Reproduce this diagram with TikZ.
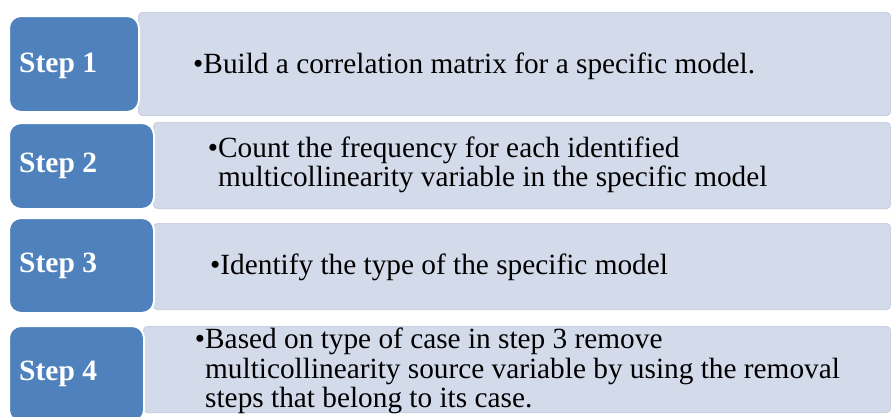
\documentclass[tikz,border=0pt]{standalone}
\usepackage{fontspec}
\setmainfont{Liberation Serif}
\definecolor{stepblue}{HTML}{4F81BD}
\definecolor{panelfill}{HTML}{D3DAEA}
\definecolor{paneledge}{HTML}{C9D1E3}
\begin{document}
\begin{tikzpicture}[x=1pt,y=-1pt,
  panel/.style={fill=panelfill, draw=paneledge, line width=1pt, rounded corners=4pt,
                anchor=north west, inner sep=0pt},
  stepbox/.style={fill=stepblue, draw=white, line width=2pt, rounded corners=12pt,
                  anchor=north west, inner sep=0pt},
  steplabel/.style={anchor=west, inner sep=0pt, text=white,
                    font=\fontsize{29.5}{29.5}\selectfont\bfseries},
  body/.style={anchor=west, inner sep=0pt, align=left,
               font=\fontsize{29.3}{29.5}\selectfont}]
\useasboundingbox (0,0) rectangle (891,416);
\clip (0,0) rectangle (891,416);

% light panels holding the descriptions
\node[panel, minimum width=752pt, minimum height=103pt] (p1) at (138,12)  {};
\node[panel, minimum width=737pt, minimum height=86pt]  (p2) at (153,122) {};
\node[panel, minimum width=737pt, minimum height=86pt]  (p3) at (153,223) {};
\node[panel, minimum width=747pt, minimum height=86pt]  (p4) at (143,326) {};

% blue step tabs
\node[stepbox, minimum width=130pt, minimum height=96pt] (s1) at (8,15)  {};
\node[stepbox, minimum width=145pt, minimum height=86pt] (s2) at (8,122) {};
\node[stepbox, minimum width=145pt, minimum height=95pt] (s3) at (8,217) {};
\node[stepbox, minimum width=135pt, minimum height=96pt] (s4) at (8,325) {};

% tab labels
\node[steplabel] (l1) at ([xshift=11pt,yshift=-2pt]s1.west) {Step 1};
\node[steplabel] (l2) at ([xshift=11pt]s2.west) {Step 2};
\node[steplabel] (l3) at ([xshift=11pt]s3.west) {Step 3};
\node[steplabel] (l4) at ([xshift=11pt]s4.west) {Step 4};

% descriptions
\node[body] (t1) at (193,66) {•Build a correlation matrix for a specific model.};
\node[body] (t2) at (218,165) {\llap{•}Count the frequency for each identified\\multicollinearity variable in the specific model};
\node[body] (t3) at (210,267) {•Identify the type of the specific model};
\node[body] (t4) at (205,371) {\llap{•}Based on type of case in step 3 remove\\multicollinearity source variable by using the removal\\steps that belong to its case.};
\end{tikzpicture}
\end{document}
